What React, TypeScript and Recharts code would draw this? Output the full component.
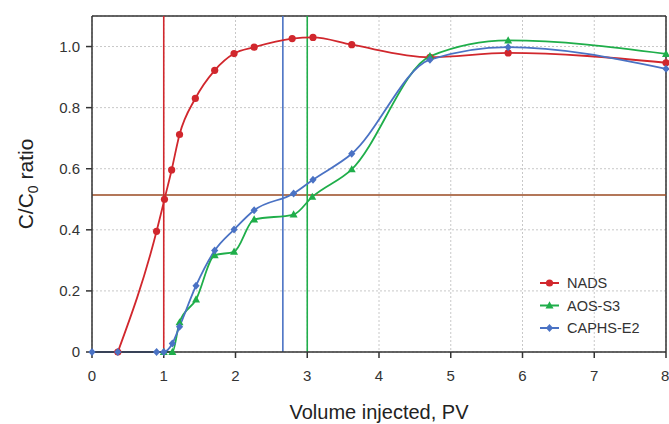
import React from "react"
import { LineChart, Line, XAxis, YAxis, CartesianGrid, ReferenceLine } from "recharts"

// Breakthrough curves
const nadsX = [0.36, 0.9, 1.01, 1.11, 1.22, 1.44, 1.71, 1.98, 2.26, 2.79, 3.08, 3.62, 4.71, 5.8, 8.0]
const nadsY = [0, 0.395, 0.5, 0.596, 0.712, 0.83, 0.922, 0.977, 0.998, 1.026, 1.03, 1.006, 0.965, 0.979, 0.947]

const aosX = [1.0, 1.12, 1.22, 1.45, 1.71, 1.98, 2.26, 2.81, 3.07, 3.62, 4.71, 5.8, 8.0]
const aosY = [0, 0, 0.097, 0.172, 0.317, 0.328, 0.434, 0.45, 0.508, 0.598, 0.968, 1.02, 0.976]

const caphsX = [0, 0.36, 0.9, 1.0, 1.12, 1.22, 1.45, 1.71, 1.98, 2.26, 2.81, 3.08, 3.62, 4.71, 5.8, 8.0]
const caphsY = [0, 0, 0, 0, 0.028, 0.083, 0.217, 0.332, 0.401, 0.464, 0.519, 0.564, 0.649, 0.957, 0.998, 0.927]

const xTicks = [0, 1, 2, 3, 4, 5, 6, 7, 8]
const yTicks = [0, 0.2, 0.4, 0.6, 0.8, 1.0]

// reference markers (breakthrough at C/C0 ~ 0.5)
const halfLevel = 0.514
const breakNads = 1.0
const breakCaphs = 2.66
const breakAos = 3.0

const RED = "#d1272d"
const GREEN = "#1fae4a"
const BLUE = "#4a72c4"
const BROWN = "#9a4a22"
const FONT = "'Liberation Sans', Arial, sans-serif"

const toPoints = (xs: number[], ys: number[]) => xs.map((x, i) => ({ x, y: ys[i] }))

type Shape = "circle" | "triangle" | "diamond"

function Marker({ cx, cy, shape, color }: { cx: number; cy: number; shape: Shape; color: string }) {
  if (cx == null || cy == null) return null
  if (shape === "circle") return <circle cx={cx} cy={cy} r={3.6} fill={color} />
  if (shape === "triangle")
    return <polygon points={`${cx},${cy - 4.2} ${cx + 4},${cy + 3} ${cx - 4},${cy + 3}`} fill={color} />
  return <polygon points={`${cx},${cy - 4} ${cx + 3.6},${cy} ${cx},${cy + 4} ${cx - 3.6},${cy}`} fill={color} />
}

const series = [
  { name: "NADS", data: toPoints(nadsX, nadsY), color: RED, shape: "circle" as Shape },
  { name: "AOS-S3", data: toPoints(aosX, aosY), color: GREEN, shape: "triangle" as Shape },
  { name: "CAPHS-E2", data: toPoints(caphsX, caphsY), color: BLUE, shape: "diamond" as Shape },
]

function LegendBox() {
  return (
    <svg width={130} height={75} style={{ display: "block" }}>
      {series.map((s, i) => {
        const y = 10 + i * 22.5
        return (
          <g key={s.name}>
            <line x1={3} x2={22} y1={y} y2={y} stroke={s.color} strokeWidth={2} />
            <Marker cx={12.5} cy={y} shape={s.shape} color={s.color} />
            <text x={30} y={y + 5} fontSize={14.5} fill="#333" fontFamily={FONT}>
              {s.name}
            </text>
          </g>
        )
      })}
    </svg>
  )
}

function YLabel() {
  return (
    <text
      transform="translate(33, 184) rotate(-90)"
      textAnchor="middle"
      fontSize={21}
      fill="#222"
      fontFamily={FONT}
    >
      <tspan>C/C</tspan>
      <tspan fontSize={14} dy={5}>0</tspan>
      <tspan dy={-5}> ratio</tspan>
    </text>
  )
}

export default function App() {
  return (
    <div style={{ position: "absolute", left: 0, top: 0, width: 669, height: 424, background: "#fff" }}>
      <LineChart width={669} height={424} margin={{ top: 16, right: 3, left: 0, bottom: 0 }}>
        <CartesianGrid stroke="#c8c8c8" strokeDasharray="2 2" />
        <XAxis
          type="number"
          dataKey="x"
          domain={[0, 8]}
          ticks={xTicks}
          height={72}
          tickSize={6}
          tickMargin={12}
          stroke="#333"
          strokeWidth={1.5}
          tick={{ fill: "#333", fontSize: 15, fontFamily: FONT }}
          label={{ value: "Volume injected, PV", position: "insideBottom", offset: 5, fontSize: 20, fill: "#222", fontFamily: FONT }}
          allowDuplicatedCategory={false}
        />
        <YAxis
          type="number"
          dataKey="y"
          domain={[0, 1.1]}
          ticks={yTicks}
          width={92}
          tickSize={6}
          tickMargin={6}
          stroke="#333"
          strokeWidth={1.5}
          tickFormatter={(v: number) => (v === 0 ? "0" : v.toFixed(1))}
          tick={{ fill: "#333", fontSize: 15, fontFamily: FONT }}
          label={<YLabel />}
        />
        <ReferenceLine x={8} stroke="#333" strokeWidth={1.5} />
        <ReferenceLine y={1.1} stroke="#333" strokeWidth={1.5} />
        <ReferenceLine y={halfLevel} stroke={BROWN} strokeWidth={1.6} />
        <ReferenceLine x={breakNads} stroke={RED} strokeWidth={1.6} />
        <ReferenceLine x={breakCaphs} stroke={BLUE} strokeWidth={1.6} />
        <ReferenceLine x={breakAos} stroke={GREEN} strokeWidth={1.6} />
        {series.map((s) => (
          <Line
            key={s.name}
            data={s.data}
            dataKey="y"
            name={s.name}
            type="monotone"
            stroke={s.color}
            strokeWidth={1.8}
            isAnimationActive={false}
            dot={(p: any) => <Marker key={`${s.name}-${p.index}`} cx={p.cx} cy={p.cy} shape={s.shape} color={s.color} />}
            activeDot={false}
          />
        ))}
      </LineChart>
      <div style={{ position: "absolute", left: 537, top: 273 }}>
        <LegendBox />
      </div>
    </div>
  )
}
